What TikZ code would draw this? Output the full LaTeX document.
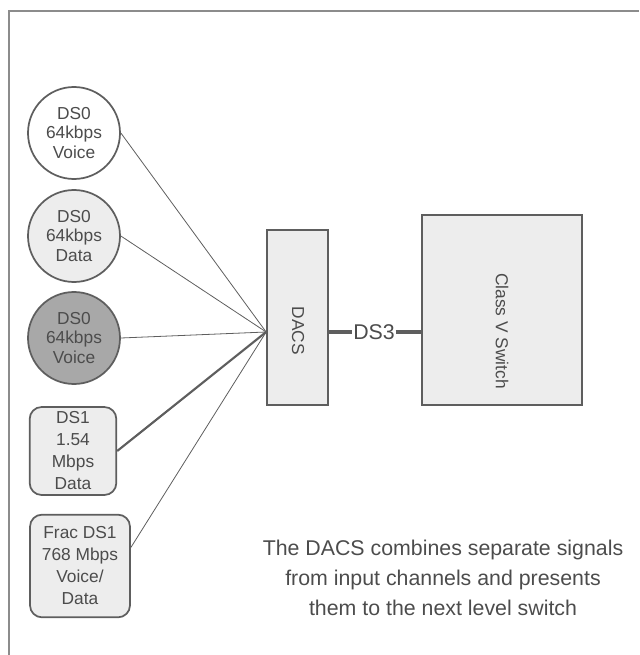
\documentclass[tikz,border=0pt]{standalone}
\usepackage{fontspec}
\setmainfont{Liberation Sans}
\usetikzlibrary{positioning}
\definecolor{edgegray}{HTML}{5E5E5E}
\definecolor{inkgray}{HTML}{4C4C4C}
\definecolor{palefill}{HTML}{EDEDED}
\definecolor{darkfill}{HTML}{A8A8A8}
\definecolor{framegray}{HTML}{8C8C8C}

\tikzset{
	chan/.style={circle, draw=edgegray, line width=1.3pt, minimum size=69pt, inner sep=0pt, align=center, text=inkgray, font=\fontsize{13}{14.3}\selectfont},
	chanbox/.style={rounded corners=9pt, draw=edgegray, line width=1.3pt, fill=palefill, inner sep=0pt, align=center, text=inkgray, font=\fontsize{13}{16.5}\selectfont},
	unitbox/.style={draw=edgegray, line width=1.3pt, fill=palefill, inner sep=0pt},
	unitlbl/.style={rotate=-90, text=inkgray, font=\fontsize{13}{15}\selectfont},
	feed/.style={draw=edgegray, line width=0.6pt},
}

\begin{document}
\begin{tikzpicture}[x=0.75pt,y=-0.75pt]
				\useasboundingbox (0,0) rectangle (639,655);
				\draw[framegray, line width=1.1pt] (9,655) -- (9,11) -- (639,11);

				\node[chan, fill=white] (voice) at (74,133) {DS0\\64kbps\\Voice};
				\node[chan, fill=palefill] (data) at (74,236) {DS0\\64kbps\\Data};
				\node[chan, fill=darkfill] (voicetwo) at (74,338) {DS0\\64kbps\\Voice};
				\node[chanbox, minimum width=65pt, minimum height=66pt] (dsone) at (73,451) {DS1\\1.54\\Mbps\\Data};
				\node[chanbox, minimum width=75pt, minimum height=77pt] (frac) at (80,566) {Frac DS1\\768 Mbps\\Voice/\\Data};

				\node[unitbox, minimum width=45.75pt, minimum height=131.25pt] (dacs) at (297.5,317.5) {};
				\node[unitbox, minimum width=120pt, minimum height=142.5pt] (switch) at (502,310) {};
				\node[unitlbl] (dacslbl) at (298,331) {DACS};
				\node[unitlbl] (switchlbl) at (502,331) {Class V Switch};
				\coordinate (hub) at (dacs.west |- 0,332);

				\draw[feed] (voice.east) -- (hub);
				\draw[feed] (data.east) -- (hub);
				\draw[feed] (voicetwo.east) -- (hub);
				\draw[feed, line width=1.6pt] (dsone.east) -- (hub);
				\draw[feed] (frac.20) -- (hub);

				\node[text=inkgray, inner sep=0.5pt, font=\fontsize{16}{18}\selectfont] (ds3) at (374,332) {DS3};
				\draw[edgegray, line width=3pt] (dacs.east |- hub) -- (ds3.west);
				\draw[edgegray, line width=3pt] (ds3.east) -- (switch.west |- hub);

				\node[text=inkgray, align=center, font=\fontsize{16}{22.5}\selectfont] (note) at (443,578) {The DACS combines separate signals\\from input channels and presents\\them to the next level switch};
			\end{tikzpicture}
\end{document}
